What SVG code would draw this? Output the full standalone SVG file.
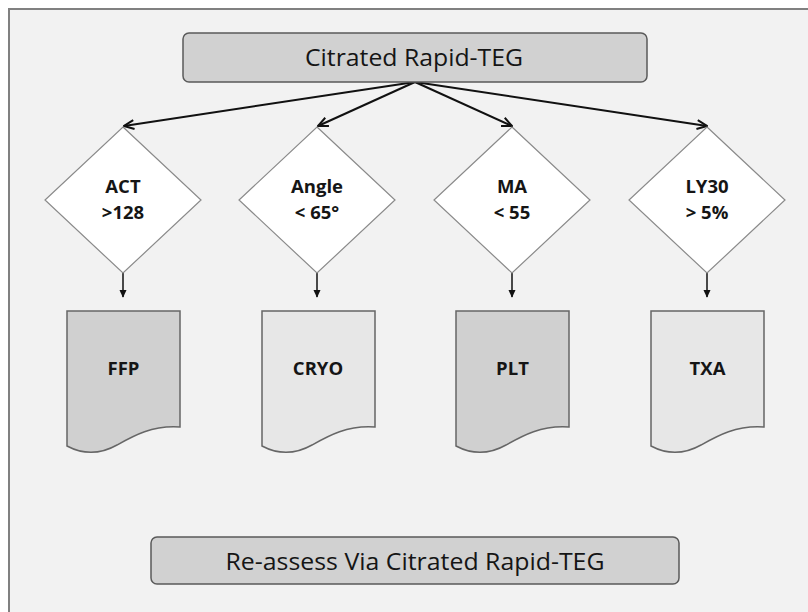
<svg xmlns="http://www.w3.org/2000/svg" width="808" height="612" viewBox="0 0 808 612">
  <defs>
    <marker id="open-head" viewBox="0 0 12 12" refX="11" refY="6" markerWidth="12" markerHeight="12" markerUnits="userSpaceOnUse" orient="auto">
      <path d="M1,1.5 L11,6 L1,10.5" fill="none" stroke="#111" stroke-width="2"/>
    </marker>
    <marker id="solid-head" viewBox="0 0 10 10" refX="9" refY="5" markerWidth="8" markerHeight="8" markerUnits="userSpaceOnUse" orient="auto">
      <path d="M0,0.5 L10,5 L0,9.5 Z" fill="#111"/>
    </marker>
  </defs>
  <style>
    .frame { fill: #f2f2f2; stroke: #808080; stroke-width: 2; }
    .banner { fill: #d1d1d1; stroke: #5a5a5a; stroke-width: 1.5; }
    .banner-text { font-family: "Open Sans", "Noto Sans", sans-serif; font-size: 23.5px; fill: #151515; text-anchor: middle; }
    .decision { fill: #ffffff; stroke: #8a8a8a; stroke-width: 1.2; }
    .doc-dark { fill: #d0d0d0; stroke: #666666; stroke-width: 1.5; }
    .doc-light { fill: #e7e7e7; stroke: #666666; stroke-width: 1.5; }
    .label { font-family: "Open Sans", "Noto Sans", sans-serif; font-size: 18.5px; font-weight: bold; fill: #151515; text-anchor: middle; }
    .fan { fill: none; stroke: #111; stroke-width: 2; marker-end: url(#open-head); }
    .drop { fill: none; stroke: #111; stroke-width: 1.5; marker-end: url(#solid-head); }
  </style>

  <!-- panel background -->
  <rect class="frame" x="9" y="9" width="810" height="620"/>

  <!-- connectors -->
  <g id="connectors">
    <line class="fan" x1="415" y1="82" x2="124" y2="126"/>
    <line class="fan" x1="415" y1="82" x2="318" y2="126"/>
    <line class="fan" x1="415" y1="82" x2="512" y2="126"/>
    <line class="fan" x1="415" y1="82" x2="707" y2="126"/>
    <line class="drop" x1="123" y1="273" x2="123" y2="297"/>
    <line class="drop" x1="317" y1="273" x2="317" y2="297"/>
    <line class="drop" x1="512" y1="273" x2="512" y2="297"/>
    <line class="drop" x1="707" y1="273" x2="707" y2="297"/>
  </g>

  <!-- start banner -->
  <g id="node-start">
    <rect class="banner" x="183" y="33" width="464" height="49" rx="6"/>
    <text class="banner-text" x="414" y="66" textLength="218" lengthAdjust="spacingAndGlyphs">Citrated Rapid-TEG</text>
  </g>

  <!-- decision diamonds -->
  <g id="node-act">
    <polygon class="decision" points="123,127 201,200 123,273 45,200"/>
    <text class="label" x="123" y="193">ACT</text>
    <text class="label" x="123" y="219">&gt;128</text>
  </g>
  <g id="node-angle">
    <polygon class="decision" points="317,127 395,200 317,273 239,200"/>
    <text class="label" x="317" y="193">Angle</text>
    <text class="label" x="317" y="219">&lt; 65°</text>
  </g>
  <g id="node-ma">
    <polygon class="decision" points="512,127 590,200 512,273 434,200"/>
    <text class="label" x="512" y="193">MA</text>
    <text class="label" x="512" y="219">&lt; 55</text>
  </g>
  <g id="node-ly30">
    <polygon class="decision" points="707,127 785,200 707,273 629,200"/>
    <text class="label" x="707" y="193">LY30</text>
    <text class="label" x="707" y="219">&gt; 5%</text>
  </g>

  <!-- treatment documents -->
  <g id="node-ffp">
    <path class="doc-dark" d="M67,311 H180 V427 C152,425 133,436 117,445 C101,454 84,455 67,446 Z"/>
    <text class="label" x="123.5" y="375">FFP</text>
  </g>
  <g id="node-cryo">
    <path class="doc-light" d="M262,311 H375 V427 C347,425 328,436 312,445 C296,454 279,455 262,446 Z"/>
    <text class="label" x="318" y="375">CRYO</text>
  </g>
  <g id="node-plt">
    <path class="doc-dark" d="M456,311 H569 V427 C541,425 522,436 506,445 C490,454 473,455 456,446 Z"/>
    <text class="label" x="512.5" y="375">PLT</text>
  </g>
  <g id="node-txa">
    <path class="doc-light" d="M651,311 H764 V427 C736,425 717,436 701,445 C685,454 668,455 651,446 Z"/>
    <text class="label" x="707.5" y="375">TXA</text>
  </g>

  <!-- closing banner -->
  <g id="node-reassess">
    <rect class="banner" x="151" y="537" width="528" height="47" rx="6"/>
    <text class="banner-text" x="415" y="570" textLength="379" lengthAdjust="spacingAndGlyphs">Re-assess Via Citrated Rapid-TEG</text>
  </g>
</svg>
